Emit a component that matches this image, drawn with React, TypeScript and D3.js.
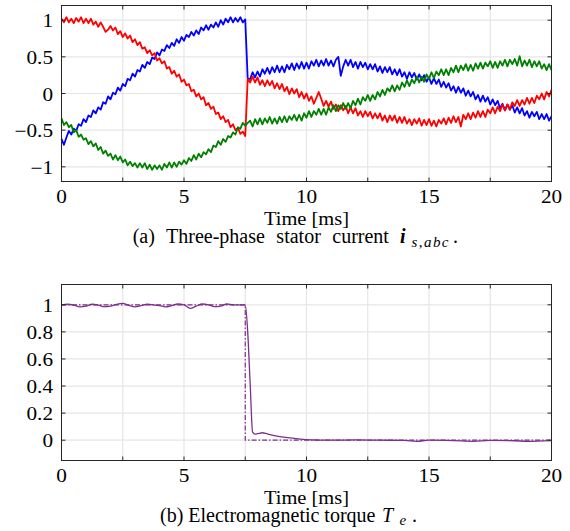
import React from "react";
import * as d3 from "d3";

// sampling step of the current traces, in ms (t = index * step)
const SAMPLE_MS = 0.1;

// three-phase stator current (p.u.), 0 ... 20 ms
const phaseA = [
  1.02, 0.97, 1.04, 0.97, 1.02, 0.96, 1.03, 0.98, 1.04, 0.96,
  1.02, 0.96, 1.02, 0.94, 0.98, 0.91, 0.97, 0.91, 0.84, 0.87,
  0.92, 0.86, 0.90, 0.81, 0.85, 0.77, 0.82, 0.75, 0.79, 0.70,
  0.74, 0.66, 0.70, 0.61, 0.63, 0.55, 0.59, 0.52, 0.55, 0.45,
  0.48, 0.41, 0.44, 0.34, 0.36, 0.27, 0.31, 0.23, 0.26, 0.16,
  0.19, 0.11, 0.13, 0.03, 0.05, -0.04, 0.00, -0.08, -0.05, -0.16,
  -0.13, -0.21, -0.18, -0.28, -0.26, -0.35, -0.31, -0.39, -0.36, -0.46,
  -0.42, -0.50, -0.47, -0.55, -0.52, -0.58,
  0.20, 0.15, 0.23, 0.15, 0.22, 0.12, 0.18, 0.10, 0.18, 0.11,
  0.17, 0.07, 0.14, 0.06, 0.13, 0.03, 0.09, -0.01, 0.07, 0.00,
  0.06, -0.05, 0.02, -0.07, 0.00, -0.10, -0.04, -0.14, -0.06, 0.02,
  -0.07, -0.17, -0.10, -0.18, -0.11, -0.21, -0.15, -0.24, -0.16, -0.23,
  -0.17, -0.27, -0.19, -0.27, -0.20, -0.30, -0.24, -0.32, -0.24, -0.31,
  -0.25, -0.34, -0.27, -0.34, -0.27, -0.37, -0.30, -0.39, -0.30, -0.37,
  -0.30, -0.40, -0.32, -0.40, -0.32, -0.41, -0.35, -0.43, -0.35, -0.41,
  -0.34, -0.44, -0.36, -0.43, -0.35, -0.44, -0.37, -0.45, -0.36, -0.41,
  -0.34, -0.42, -0.33, -0.40, -0.31, -0.39, -0.32, -0.45, -0.29, -0.35,
  -0.27, -0.35, -0.26, -0.33, -0.24, -0.32, -0.24, -0.32, -0.22, -0.27,
  -0.19, -0.27, -0.18, -0.24, -0.15, -0.23, -0.15, -0.22, -0.12, -0.17,
  -0.09, -0.17, -0.09, -0.15, -0.06, -0.14, -0.06, -0.13, -0.03, -0.08,
  0.00, -0.08, 0.02, -0.04, 0.05,
];

const phaseB = [
  -0.62, -0.70, -0.60, -0.51, -0.56, -0.48, -0.51, -0.42, -0.44, -0.35,
  -0.39, -0.30, -0.32, -0.23, -0.27, -0.19, -0.22, -0.12, -0.14, -0.04,
  -0.08, 0.01, -0.01, 0.08, 0.04, 0.13, 0.10, 0.20, 0.18, 0.27,
  0.23, 0.32, 0.30, 0.39, 0.35, 0.43, 0.40, 0.49, 0.47, 0.56,
  0.52, 0.60, 0.58, 0.66, 0.62, 0.69, 0.65, 0.74, 0.69, 0.77,
  0.72, 0.80, 0.77, 0.84, 0.79, 0.86, 0.81, 0.90, 0.86, 0.93,
  0.87, 0.94, 0.90, 0.97, 0.91, 1.00, 0.94, 1.02, 0.97, 1.04,
  0.97, 1.03, 0.98, 1.04, 0.97, 1.01,
  0.20, 0.20, 0.29, 0.22, 0.30, 0.23, 0.33, 0.27, 0.35, 0.27,
  0.36, 0.29, 0.38, 0.29, 0.37, 0.29, 0.39, 0.33, 0.41, 0.32,
  0.41, 0.34, 0.43, 0.34, 0.42, 0.34, 0.44, 0.38, 0.46, 0.37,
  0.45, 0.38, 0.47, 0.38, 0.45, 0.37, 0.46, 0.50, 0.24, 0.37,
  0.46, 0.38, 0.46, 0.36, 0.43, 0.34, 0.43, 0.36, 0.42, 0.33,
  0.40, 0.33, 0.40, 0.30, 0.37, 0.28, 0.36, 0.29, 0.36, 0.26,
  0.33, 0.25, 0.33, 0.23, 0.29, 0.20, 0.29, 0.22, 0.28, 0.19,
  0.26, 0.18, 0.25, 0.16, 0.22, 0.13, 0.21, 0.13, 0.19, 0.09,
  0.16, 0.08, 0.14, 0.04, 0.10, 0.01, 0.09, 0.01, 0.07, -0.03,
  0.04, -0.04, 0.02, -0.08, -0.02, -0.11, -0.03, -0.11, -0.05, -0.15,
  -0.08, -0.16, -0.10, -0.20, -0.14, -0.23, -0.15, -0.22, -0.16, -0.26,
  -0.19, -0.27, -0.20, -0.30, -0.24, -0.33, -0.25, -0.31, -0.25, -0.35,
  -0.28, -0.35, -0.28, -0.37, -0.31,
];

const phaseC = [
  -0.34, -0.43, -0.39, -0.46, -0.43, -0.53, -0.50, -0.59, -0.56, -0.63,
  -0.61, -0.69, -0.65, -0.72, -0.68, -0.77, -0.73, -0.82, -0.78, -0.85,
  -0.82, -0.90, -0.84, -0.91, -0.86, -0.94, -0.90, -0.98, -0.93, -0.99,
  -0.95, -1.01, -0.95, -1.01, -0.95, -1.03, -0.97, -1.04, -0.98, -1.03,
  -0.98, -1.04, -0.96, -1.01, -0.94, -1.01, -0.94, -1.00, -0.93, -0.97,
  -0.91, -0.96, -0.88, -0.92, -0.84, -0.90, -0.82, -0.87, -0.80, -0.83,
  -0.76, -0.80, -0.71, -0.73, -0.65, -0.70, -0.62, -0.66, -0.58, -0.60,
  -0.53, -0.56, -0.46, -0.48, -0.40, -0.44,
  -0.40, -0.37, -0.45, -0.35, -0.42, -0.34, -0.42, -0.34, -0.40, -0.32,
  -0.41, -0.34, -0.41, -0.32, -0.39, -0.31, -0.39, -0.31, -0.36, -0.29,
  -0.37, -0.29, -0.37, -0.27, -0.33, -0.24, -0.32, -0.24, -0.29, -0.21,
  -0.29, -0.21, -0.29, -0.19, -0.25, -0.16, -0.24, -0.16, -0.21, -0.13,
  -0.21, -0.13, -0.20, -0.10, -0.16, -0.07, -0.15, -0.05, -0.10, -0.02,
  -0.10, -0.02, -0.08, 0.02, -0.04, 0.05, -0.02, 0.07, 0.03, 0.11,
  0.03, 0.11, 0.05, 0.15, 0.09, 0.18, 0.10, 0.19, 0.14, 0.23,
  0.15, 0.23, 0.16, 0.26, 0.20, 0.29, 0.21, 0.30, 0.25, 0.33,
  0.25, 0.33, 0.25, 0.35, 0.29, 0.38, 0.29, 0.38, 0.32, 0.40,
  0.31, 0.39, 0.31, 0.41, 0.34, 0.42, 0.34, 0.42, 0.37, 0.44,
  0.35, 0.43, 0.35, 0.44, 0.38, 0.46, 0.37, 0.46, 0.40, 0.47,
  0.38, 0.51, 0.37, 0.45, 0.38, 0.46, 0.36, 0.44, 0.37, 0.44,
  0.34, 0.40, 0.32, 0.40, 0.32,
];

// electromagnetic torque (p.u.)
const torqueTime = [
  0, 0.25, 0.5, 0.75, 1, 1.25, 1.5, 1.75, 2, 2.25, 2.5, 2.75, 3, 3.25, 3.5, 3.75,
  4, 4.25, 4.5, 4.75, 5, 5.25, 5.5, 5.75, 6, 6.25, 6.5, 6.75, 7, 7.25, 7.5,
  7.6, 7.7, 7.8, 7.9, 8, 8.2, 8.4, 8.6, 8.8, 9, 9.5, 10, 10.5, 11, 12, 13, 14,
  14.5, 15, 16, 16.8, 17.5, 18.5, 19, 20,
];
const torqueValue = [
  1.0, 1.004, 0.998, 0.984, 0.99, 1.004, 0.998, 0.986, 0.99, 1.004, 1.01, 0.996,
  0.984, 0.994, 1.004, 1.0, 0.994, 0.984, 0.994, 1.006, 1.0, 0.974, 0.99, 1.006,
  1.0, 0.986, 0.99, 1.006, 1.0, 1.0, 1.0,
  0.8, 0.42, 0.06, 0.045, 0.048, 0.055, 0.046, 0.037, 0.03, 0.024, 0.014, 0.004,
  0.001, 0.0, 0.002, 0.0, -0.002, -0.008, 0.0, -0.003, -0.008, -0.002, -0.004,
  -0.008, -0.003,
];
const torqueRefTime = [0, 7.5, 7.5, 20];
const torqueRefValue = [1, 1, 0, 0];

const xTicks = [0, 5, 10, 15, 20];
const xGrid = [0, 2.5, 5, 7.5, 10, 12.5, 15, 17.5, 20];
const currentTicks = [-1, -0.5, 0, 0.5, 1];
const torqueTicks = [0, 0.2, 0.4, 0.6, 0.8, 1];

const W = 570;
const H = 531;
const LEFT = 61.5;
const RIGHT = 551.5;
const FONT = "Liberation Serif";
const GRID = "#e6e6e6";
const AXIS = "#262626";

const x = d3.scaleLinear().domain([0, 20]).range([LEFT, RIGHT]);
const fmt = d3.format("~g");

type Pt = [number, number];

function Panel({ top, bottom, domain, ticks, children }: {
  top: number; bottom: number; domain: [number, number]; ticks: number[];
  children: (y: d3.ScaleLinear<number, number>) => React.ReactNode;
}) {
  const y = d3.scaleLinear().domain(domain).range([bottom, top]);
  return (
    <g>
      {/* grid */}
      {xGrid.map((d, i) => (
        <line key={"gx" + i} x1={x(d)} x2={x(d)} y1={top} y2={bottom} stroke={GRID} strokeWidth={1.2} />
      ))}
      {ticks.map((d, i) => (
        <line key={"gy" + i} x1={LEFT} x2={RIGHT} y1={y(d)} y2={y(d)} stroke={GRID} strokeWidth={1.2} />
      ))}

      <g>{children(y)}</g>

      {/* box + inward ticks */}
      <rect x={LEFT} y={top} width={RIGHT - LEFT} height={bottom - top} fill="none" stroke={AXIS} strokeWidth={1} />
      {xGrid.map((d, i) => (
        <g key={"tx" + i}>
          <line x1={x(d)} x2={x(d)} y1={bottom} y2={bottom - 4} stroke={AXIS} />
          <line x1={x(d)} x2={x(d)} y1={top} y2={top + 4} stroke={AXIS} />
        </g>
      ))}
      {ticks.map((d, i) => (
        <g key={"ty" + i}>
          <line x1={LEFT} x2={LEFT + 4} y1={y(d)} y2={y(d)} stroke={AXIS} />
          <line x1={RIGHT} x2={RIGHT - 4} y1={y(d)} y2={y(d)} stroke={AXIS} />
          <text
            transform={`translate(53,${y(d) + 7}) scale(1.18,1)`}
            textAnchor="end" fontSize={18} fontFamily={FONT} fill="#000"
          >
            {fmt(d)}
          </text>
        </g>
      ))}
      {xTicks.map((d, i) => (
        <text
          key={"lx" + i}
          transform={`translate(${x(d)},${bottom + 21.5}) scale(1.18,1)`}
          textAnchor="middle" fontSize={18} fontFamily={FONT} fill="#000"
        >
          {d}
        </text>
      ))}
      <text
        transform={`translate(${(LEFT + RIGHT) / 2},${bottom + 43}) scale(1.05,1)`}
        textAnchor="middle" fontSize={19.5} fontFamily={FONT} fill="#000"
      >
        Time [ms]
      </text>
    </g>
  );
}

export default function App() {
  const traces = [
    { values: phaseB, color: "#0000ff" },
    { values: phaseA, color: "#ff0000" },
    { values: phaseC, color: "#008000" },
  ];

  const torquePts: Pt[] = torqueTime.map((t, i) => [t, torqueValue[i]]);
  const refPts: Pt[] = torqueRefTime.map((t, i) => [t, torqueRefValue[i]]);

  return (
    <svg width={W} height={H} fontFamily={FONT}
      style={{ position: "absolute", left: 0, top: 0, background: "#fff", fontFamily: "'Liberation Serif'" }}>
      <Panel top={5.5} bottom={181.5} domain={[-1.2, 1.2]} ticks={currentTicks}>
        {(y) => {
          const line = d3.line<number>()
            .x((_, i) => x(i * SAMPLE_MS))
            .y((d) => y(d));
          return traces.map((s, i) => (
            <path key={i} d={line(s.values) || ""} fill="none" stroke={s.color} strokeWidth={1.8} strokeLinejoin="round" />
          ));
        }}
      </Panel>
      <text x={132.7} y={242.5} fontSize={20} fontFamily={FONT} wordSpacing={6.5}>
        (a) Three-phase stator current
      </text>
      <text x={400} y={242.5} fontSize={20} fontFamily={FONT} fontWeight="bold" fontStyle="italic">i</text>
      <text x={411.5} y={246.5} fontSize={15} fontFamily={FONT} fontStyle="italic" textLength={37} lengthAdjust="spacing">s,abc</text>
      <text x={453} y={242.5} fontSize={20} fontFamily={FONT}>.</text>

      <Panel top={284.5} bottom={460.5} domain={[-0.15, 1.15]} ticks={torqueTicks}>
        {(y) => {
          const line = d3.line<Pt>().x((d) => x(d[0])).y((d) => y(d[1]));
          const smooth = d3.line<Pt>().x((d) => x(d[0])).y((d) => y(d[1])).curve(d3.curveMonotoneX);
          return (
            <g>
              <path d={line(refPts) || ""} fill="none" stroke="#7e2f8e" strokeWidth={1.2} strokeDasharray="5,2,1.5,2" />
              <path d={smooth(torquePts) || ""} fill="none" stroke="#7e2f8e" strokeWidth={1.3} />
            </g>
          );
        }}
      </Panel>
      <text x={160} y={521.5} fontSize={20} fontFamily={FONT}>
        (b) Electromagnetic torque
      </text>
      <text x={382} y={521.5} fontSize={20} fontFamily={FONT} fontStyle="italic">T</text>
      <text x={399.5} y={525} fontSize={15} fontFamily={FONT} fontStyle="italic">e</text>
      <text x={412} y={521.5} fontSize={20} fontFamily={FONT}>.</text>
    </svg>
  );
}
